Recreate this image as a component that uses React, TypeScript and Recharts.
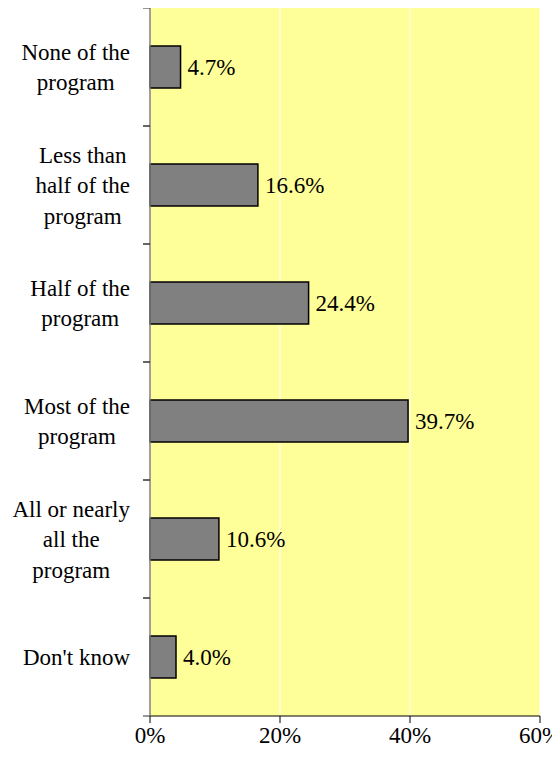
import React from "react";
import { BarChart, Bar, XAxis, YAxis, CartesianGrid, LabelList } from "recharts";

const categories = [
  "None of the program",
  "Less than half of the program",
  "Half of the program",
  "Most of the program",
  "All or nearly all the program",
  "Don't know",
];
const labelLines = [
  ["None of the", "program"],
  ["Less than", "half of the", "program"],
  ["Half of the", "program"],
  ["Most of the", "program"],
  ["All or nearly", "all the", "program"],
  ["Don't know"],
];
const values = [4.7, 16.6, 24.4, 39.7, 10.6, 4.0];
const xTicks = [0, 20, 40, 60];

const data = categories.map((c, i) => ({ label: c, value: values[i] }));

const FONT = "Times New Roman";
const FS = 23;
const W = 560;
const H = 765;
const MARGIN = { top: 8, right: 20, bottom: 0, left: 0 };
const X_AXIS_H = 49;
const HALF_BAND = (H - MARGIN.top - MARGIN.bottom - X_AXIS_H) / categories.length / 2;

const ADV: Record<string, number> = {
  " ": 250, "'": 180, A: 722, D: 722, H: 722, L: 611, M: 889, N: 722,
  a: 444, e: 444, f: 333, g: 500, h: 500, k: 500, l: 278, m: 778, n: 500,
  o: 500, p: 500, r: 333, s: 389, t: 278, w: 722, y: 500,
};
function measure(t: string): number {
  let w = 0;
  for (const ch of t) w += ADV[ch] ?? 500;
  return (w / 1000) * FS;
}

const CategoryTick = (props: any) => {
  const { x, y, payload } = props;
  const idx = categories.indexOf(payload.value);
  const lines = labelLines[idx] || [String(payload.value)];
  const maxW = Math.max(...lines.map(measure));
  const cx = x - maxW / 2;
  const lh = 30.5;
  const first = y + 8 - ((lines.length - 1) * lh) / 2;
  const axisX = x + 20;
  return (
    <g>
      <line x1={axisX - 7} x2={axisX} y1={y - HALF_BAND} y2={y - HALF_BAND} stroke="#333" strokeWidth={1} />
      <line x1={axisX - 7} x2={axisX} y1={y + HALF_BAND} y2={y + HALF_BAND} stroke="#333" strokeWidth={1} />
      {lines.map((l, i) => (
        <text key={i} x={cx} y={first + i * lh} textAnchor="middle" fontFamily={FONT} fontSize={FS} fill="#000">
          {l}
        </text>
      ))}
    </g>
  );
};

const ValueLabel = (props: any) => {
  const { x, y, width, height, value } = props;
  return (
    <text x={x + width + 7} y={y + height / 2 + 8} fontFamily={FONT} fontSize={FS} fill="#000">
      {`${Number(value).toFixed(1)}%`}
    </text>
  );
};

const XTick = (props: any) => {
  const { x, y, payload } = props;
  return (
    <text x={x} y={y + 18} textAnchor="middle" fontFamily={FONT} fontSize={FS} fill="#000">
      {`${payload.value}%`}
    </text>
  );
};

export default function App() {
  return (
    <div style={{ marginLeft: -8, marginTop: -8, width: W, height: H }}>
      <BarChart width={W} height={H} data={data} layout="vertical" margin={MARGIN}>
        <CartesianGrid horizontal={false} vertical={true} stroke="#FFFFFF" fill="#FFFF99" strokeWidth={1} />
        <XAxis
          type="number"
          domain={[0, 60]}
          ticks={xTicks}
          interval={0}
          height={X_AXIS_H}
          axisLine={{ stroke: "#000", strokeWidth: 1 }}
          tickLine={{ stroke: "#000", strokeWidth: 1 }}
          tickSize={7}
          tickMargin={2}
          tick={<XTick />}
        />
        <YAxis
          type="category"
          dataKey="label"
          width={150}
          axisLine={{ stroke: "#808080", strokeWidth: 1.5 }}
          tickLine={false}
          tickSize={7}
          tickMargin={13}
          interval={0}
          tick={<CategoryTick />}
        />
        <Bar dataKey="value" fill="#808080" stroke="#000" strokeWidth={1.5} barSize={42} isAnimationActive={false}>
          <LabelList dataKey="value" content={<ValueLabel />} />
        </Bar>
      </BarChart>
    </div>
  );
}
